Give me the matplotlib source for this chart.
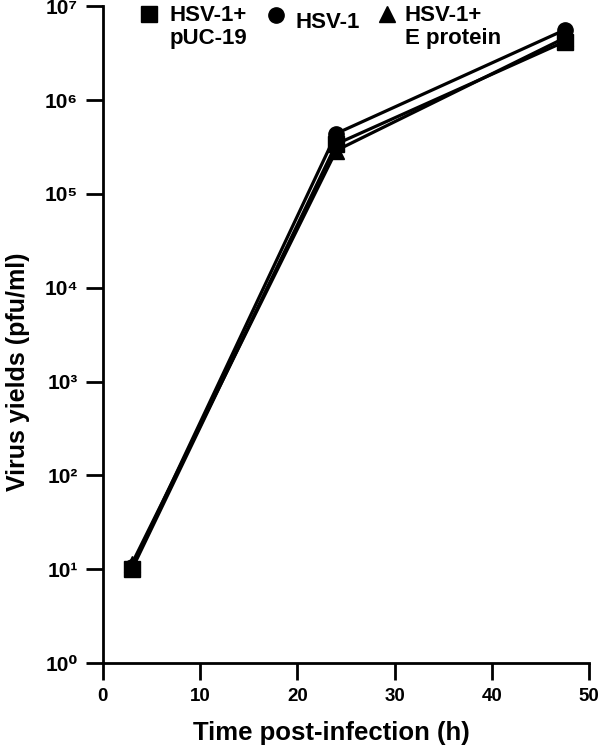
import numpy as np
import matplotlib
matplotlib.use('Agg')
import matplotlib.pyplot as plt
from matplotlib.ticker import FixedLocator, FuncFormatter

plt.rcParams['font.family'] = ['Liberation Sans', 'DejaVu Sans']
plt.rcParams['font.weight'] = 'bold'

# data
hours = [3, 24, 47.5]
pfu_puc19 = [1.0e1, 3.4e5, 4.2e6]
pfu_hsv1 = [1.05e1, 4.4e5, 5.6e6]
pfu_eprot = [1.15e1, 2.9e5, 4.6e6]

series = [
    ('HSV-1+\npUC-19', pfu_puc19, 's'),
    ('HSV-1', pfu_hsv1, 'o'),
    ('HSV-1+\nE protein', pfu_eprot, '^'),
]

SUP = str.maketrans('0123456789', '⁰¹²³⁴⁵⁶⁷⁸⁹')

fig = plt.figure(figsize=(5.98, 7.48), dpi=100)
ax = fig.add_axes([0.172, 0.1136, 0.813, 0.878])

for label, vals, mk in series:
    ax.plot(hours, vals, color='black', lw=2.3, marker=mk, ms=11,
            mfc='black', mec='black', clip_on=False, zorder=3)

ax.set_yscale('log')
ax.set_ylim(1, 1e7)
ax.set_xlim(0, 50)
ax.set_xticks([0, 10, 20, 30, 40, 50])
ax.yaxis.set_major_locator(FixedLocator([10.0 ** k for k in range(8)]))
ax.yaxis.set_minor_locator(FixedLocator([]))
ax.yaxis.set_major_formatter(
    FuncFormatter(lambda v, p: '10' + str(int(round(np.log10(v)))).translate(SUP)))

for s in ['top', 'right']:
    ax.spines[s].set_visible(False)
for s in ['left', 'bottom']:
    ax.spines[s].set_linewidth(2)
ax.tick_params(direction='out', length=12, width=2, pad=6)
ax.tick_params(axis='x', labelsize=13.5)
ax.tick_params(axis='y', labelsize=15)
for t in ax.get_xticklabels() + ax.get_yticklabels():
    t.set_fontweight('bold')

ax.set_xlabel('Time post-infection (h)', fontsize=18.5, fontweight='bold', labelpad=10)
ax.xaxis.set_label_coords(0.471, -0.088)
ax.set_ylabel('Virus yields (pfu/ml)', fontsize=18, fontweight='bold')
ax.yaxis.set_label_coords(-0.15, 0.443)

# legend drawn by hand at top
for (label, vals, mk), (mx, my, tx) in zip(series, [(0.249, 0.981, 0.283),
                                                    (0.462, 0.980, 0.494),
                                                    (0.647, 0.981, 0.677)]):
    fig.lines.append(plt.Line2D([mx], [my], marker=mk, ms=11, color='black',
                                transform=fig.transFigure))
    ty = 0.993 if '\n' in label else 0.984
    fig.text(tx, ty, label, fontsize=16, fontweight='bold', va='top', ha='left',
             linespacing=1.1)

fig.savefig('out.png', dpi=100)
